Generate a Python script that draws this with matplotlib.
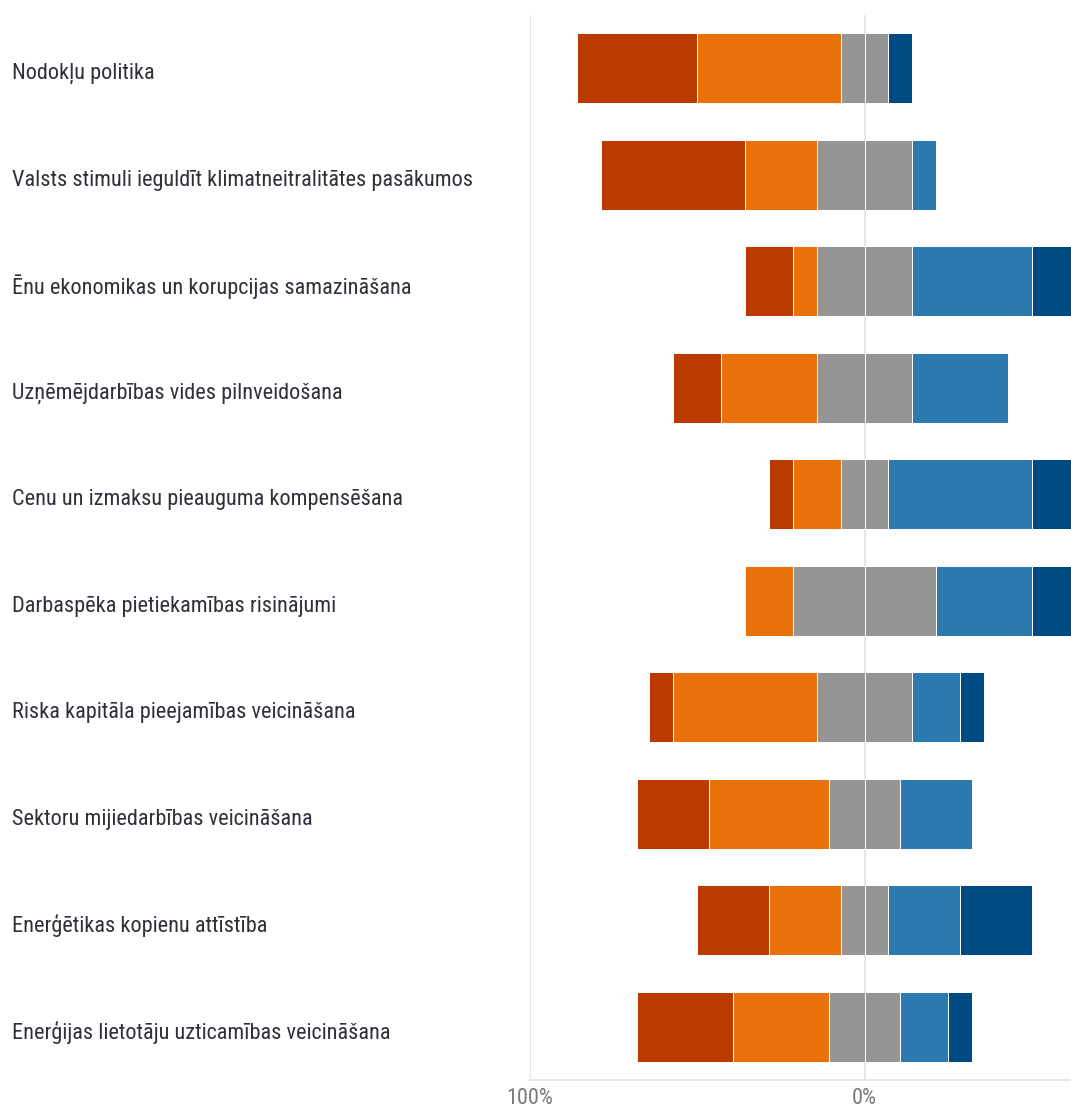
import numpy as np
import matplotlib
matplotlib.use("Agg")
import matplotlib.pyplot as plt
from matplotlib import font_manager as fm
from matplotlib.transforms import blended_transform_factory

# Survey items (top to bottom) and answer counts per category (14 respondents)
categories = [
    "Nodokļu politika",
    "Valsts stimuli ieguldīt klimatneitralitātes pasākumos",
    "Ēnu ekonomikas un korupcijas samazināšana",
    "Uzņēmējdarbības vides pilnveidošana",
    "Cenu un izmaksu pieauguma kompensēšana",
    "Darbaspēka pietiekamības risinājumi",
    "Riska kapitāla pieejamības veicināšana",
    "Sektoru mijiedarbības veicināšana",
    "Enerģētikas kopienu attīstība",
    "Enerģijas lietotāju uzticamības veicināšana",
]
respondents = 14
strongly_negative = [5, 6, 2, 2, 1, 0, 1, 3, 3, 4]
negative = [6, 3, 1, 4, 2, 2, 6, 5, 3, 4]
neutral = [2, 4, 4, 4, 2, 6, 4, 3, 2, 3]
positive = [0, 1, 5, 4, 6, 4, 2, 3, 3, 2]
strongly_positive = [1, 0, 2, 0, 3, 2, 1, 0, 3, 1]

tick_values = [-100, 0]
tick_labels = ["100%", "0%"]

colors = {
    "sn": "#BB3A00",
    "n": "#E97109",
    "neu": "#959595",
    "p": "#2C79B0",
    "sp": "#004A83",
}


def pick_font():
    """Prefer a narrow sans face; fall back to a regular one."""
    narrow = ["Liberation Sans Narrow", "DejaVu Sans Condensed",
              "Roboto Condensed", "Open Sans Condensed", "Noto Sans Condensed"]
    entries = fm.fontManager.ttflist
    names = {f.name for f in entries}
    for n in narrow:
        if n in names:
            for f in entries:
                if f.name == n and f.style == "normal" and f.weight in (400, "normal", "regular"):
                    return fm.FontProperties(fname=f.fname), True
            return fm.FontProperties(family=n), True
    for f in entries:
        if (f.stretch in ("condensed", "semi-condensed")
                and f.style == "normal" and f.weight in (400, "normal", "regular")):
            return fm.FontProperties(fname=f.fname), True
    return fm.FontProperties(family="Open Sans"), False


font, is_narrow = pick_font()

W, H = 1071, 1108
fig = plt.figure(figsize=(W / 100, H / 100), dpi=100)
# the plot area runs on past the right edge of the canvas
ax = fig.add_axes([529.5 / W, 28 / H, 670 / W, 1065 / H])

to_pct = lambda v: np.asarray(v, dtype=float) / respondents * 100
sn, ng, nu, ps, sp = map(to_pct, (strongly_negative, negative, neutral,
                                 positive, strongly_positive))
y = np.arange(len(categories))
h = 0.66
kw = dict(height=h, edgecolor="white", linewidth=0.7, zorder=3)

half = nu / 2
ax.barh(y, -half, left=0, color=colors["neu"], **kw)
ax.barh(y, half, left=0, color=colors["neu"], **kw)
ax.barh(y, -ng, left=-half, color=colors["n"], **kw)
ax.barh(y, -sn, left=-half - ng, color=colors["sn"], **kw)
ax.barh(y, ps, left=half, color=colors["p"], **kw)
ax.barh(y, sp, left=half + ps, color=colors["sp"], **kw)

ax.set_xlim(-100, 100)
ax.set_ylim(len(categories) - 0.5, -0.5)

grid_c = "#E3E3E3"
for v in tick_values:
    ax.axvline(v, color=grid_c, lw=1.2, zorder=1)
for s in ("top", "right", "left"):
    ax.spines[s].set_visible(False)
ax.spines["bottom"].set_color(grid_c)
ax.spines["bottom"].set_linewidth(1.2)

ax.set_yticks([])
ax.set_xticks(tick_values)
tick_size = 16 if is_narrow else 13.5
ax.set_xticklabels(tick_labels, fontproperties=font, fontsize=tick_size, color="#7A7A7A")
ax.tick_params(axis="x", length=0, pad=6)

label_size = 16 if is_narrow else 13.5
tr = blended_transform_factory(fig.transFigure, ax.transData)
for yi, lab in zip(y, categories):
    fig.text(12 / W, yi + 0.05, lab, transform=tr, ha="left", va="center",
             fontproperties=font, fontsize=label_size, color="#30303C")

fig.savefig("out.png", dpi=100)
